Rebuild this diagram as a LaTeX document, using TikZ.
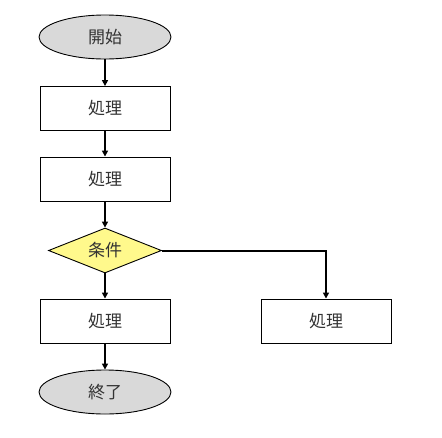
\documentclass[tikz,border=0pt]{standalone}
\usepackage{fontspec}
\newfontfamily\cjk{Noto Sans CJK JP}
\usetikzlibrary{shapes.geometric,arrows.meta}
\begin{document}
\begin{tikzpicture}[x=1pt,y=-1pt,
  base/.style={draw=black, line width=0.9pt, font=\cjk\fontsize{17}{19}\selectfont, text=black!80, inner sep=0pt},
  term/.style={base, ellipse, fill=black!15, minimum width=132pt, minimum height=44pt},
  proc/.style={base, rectangle, fill=white, minimum width=130pt, minimum height=44pt},
  cond/.style={base, diamond, fill=yellow!45, minimum width=113pt, minimum height=45pt, aspect=2.5},
  flow/.style={draw=black, line width=2pt, -{Triangle[length=6pt,width=6pt]}}
]
\useasboundingbox (0,0) rectangle (442,437);
\node[term] (start) at (105,37) {開始};
\node[proc] (p1) at (105,108.5) {処理};
\node[proc] (p2) at (105,179) {処理};
\node[cond] (c) at (105,250.5) {条件};
\node[proc] (p3) at (105,321) {処理};
\node[proc] (p4) at (326,321) {処理};
\node[term] (end) at (105,392) {終了};
\draw[flow] (start) -- (p1);
\draw[flow] (p1) -- (p2);
\draw[flow] (p2) -- (c);
\draw[flow] (c) -- (p3);
\draw[flow] (c.east) -| (p4.north);
\draw[flow] (p3) -- (end);
\end{tikzpicture}
\end{document}
